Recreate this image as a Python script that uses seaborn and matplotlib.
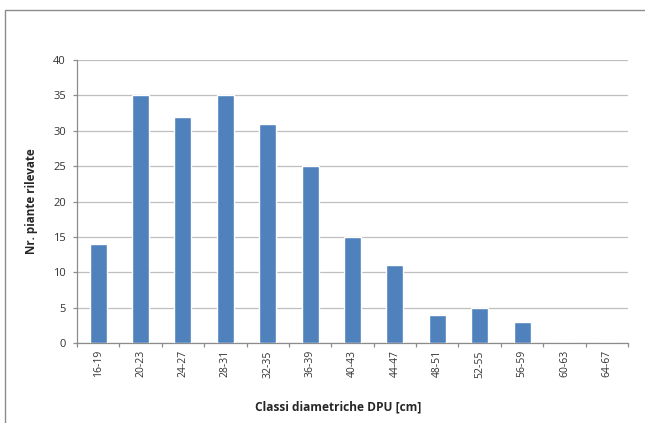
import matplotlib
matplotlib.use("Agg")
import matplotlib.pyplot as plt
import seaborn as sns
import pandas as pd
from matplotlib.patches import Rectangle

classes = ["16-19", "20-23", "24-27", "28-31", "32-35", "36-39", "40-43",
           "44-47", "48-51", "52-55", "56-59", "60-63", "64-67"]
counts = [14, 35, 32, 35, 31, 25, 15, 11, 4, 5, 3, 0, 0]
y_ticks = [0, 5, 10, 15, 20, 25, 30, 35, 40]

sns.set_theme(style="white")
plt.rcParams["font.family"] = ["Open Sans", "DejaVu Sans"]

df = pd.DataFrame({"classe": classes, "piante": counts})

fig = plt.figure(figsize=(6.45, 4.23), dpi=100)
ax = fig.add_axes([77 / 645, 1 - 343 / 423, (628 - 77) / 645, (343 - 60) / 423])

sns.barplot(data=df, x="classe", y="piante", color="#4F81BD", saturation=1,
            width=0.4, ax=ax, zorder=3)

ax.set_ylim(0, 40)
ax.set_xlim(-0.5, len(classes) - 0.5)
ax.set_yticks(y_ticks)
ax.yaxis.grid(True, color="#BFBFBF", linewidth=0.9, zorder=0)
ax.set_axisbelow(True)

for side in ["top", "right"]:
    ax.spines[side].set_visible(False)
for side in ["left", "bottom"]:
    ax.spines[side].set_color("#8C8C8C")
    ax.spines[side].set_linewidth(0.9)

# category separators on the x axis, small marks on the y axis
ax.set_xticks(range(len(classes)))
ax.set_xticklabels(classes, rotation=90, fontsize=7.5, color="#333333")
ax.set_xticks([i - 0.5 for i in range(len(classes) + 1)], minor=True)
ax.tick_params(axis="x", which="major", length=0, pad=5.2)
ax.tick_params(axis="x", which="minor", length=3, color="#8C8C8C", width=0.9,
               direction="out", bottom=True)
ax.tick_params(axis="y", length=3, color="#8C8C8C", width=0.9, direction="out",
               left=True, labelsize=8, labelcolor="#333333", pad=5)

ax.set_xlabel("Classi diametriche DPU [cm]", fontsize=8.6, fontweight="bold",
              color="#262626")
ax.set_ylabel("Nr. piante rilevate", fontsize=8.4, fontweight="bold",
              color="#262626")
ax.xaxis.label.set_va("center")
ax.xaxis.set_label_coords((338 - 77) / 551, -(407 - 343) / 283)
ax.yaxis.label.set_va("center")
ax.yaxis.set_label_coords((32 - 77) / 551, 0.5)

# chart-area frame
fig.patches.append(Rectangle((5 / 645, -0.05), 1.2, 1 - 10 / 423 + 0.05,
                             transform=fig.transFigure, fill=False,
                             edgecolor="#8C8C8C", linewidth=1.0))

fig.savefig("out.png", dpi=100, facecolor="white")
